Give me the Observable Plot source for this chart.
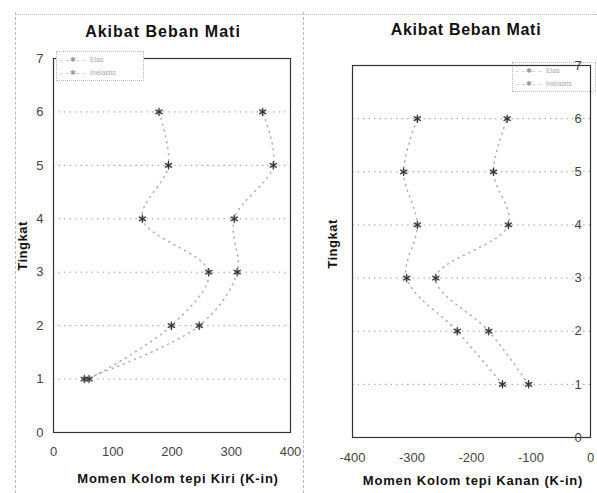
<!DOCTYPE html>
<html><head><meta charset="utf-8">
<script src="https://cdn.jsdelivr.net/npm/d3@7"></script>
<script src="https://cdn.jsdelivr.net/npm/@observablehq/plot@0.6"></script>
<style>
body{margin:0;background:#fff;font-family:"Liberation Sans",Arial,sans-serif;}
#wrap{position:relative;width:597px;height:493px;overflow:hidden;}
.panel{position:absolute;top:0;}
.t{position:absolute;font-weight:bold;color:#111;white-space:nowrap;transform:translate(-50%,-50%);}
.yl{position:absolute;font-weight:bold;font-size:13px;letter-spacing:0.5px;color:#111;transform:translate(-50%,-50%) rotate(-90deg);white-space:nowrap;}
.leg{position:absolute;border:1px dotted #bbb;background:#fff;font-size:7px;color:#aaa;line-height:13px;padding:1px 3px;}
.sep{position:absolute;border-left:1px dashed #bbb;}
.top{position:absolute;border-top:1px dotted #bbb;}
</style></head>
<body><div id="wrap"></div>
<script>
const levels = [1, 2, 3, 4, 5, 6];
const seriesNames = ["Elas", "Inelastis"];
const kiriElas = [60, 199, 262, 150, 194, 178];
const kiriInelastis = [52, 246, 310, 305, 371, 353];
const kananElas = [-148, -224, -309, -291, -314, -291];
const kananInelastis = [-104, -171, -260, -138, -163, -140];
const yTicks = [0, 1, 2, 3, 4, 5, 6, 7];
const xTicksKiri = [0, 100, 200, 300, 400];
const xTicksKanan = [-400, -300, -200, -100, 0];
const title = "Akibat Beban Mati";
const yLabel = "Tingkat";
const xLabelKiri = "Momen Kolom tepi Kiri (K-in)";
const xLabelKanan = "Momen Kolom tepi Kanan (K-in)";

function rows(a, b) {
  return levels.flatMap((lv, i) => [
    {s: seriesNames[0], x: a[i], y: lv},
    {s: seriesNames[1], x: b[i], y: lv}
  ]);
}

function makePlot(data, xDomain, xTicks, o) {
  return Plot.plot({
    width: o.width, height: 493,
    marginLeft: o.ml, marginRight: o.mr, marginTop: o.mt, marginBottom: o.mb,
    style: {fontFamily: "Liberation Sans, Arial, sans-serif", fontSize: "13px", color: "#444", background: "transparent", overflow: "visible"},
    x: {domain: xDomain, label: null},
    y: {domain: [0, 7], label: null},
    marks: [
      Plot.gridY(yTicks.filter(d => d > 0 && d < 7), {stroke: "#777", strokeOpacity: 0.7, strokeDasharray: "1.5,4"}),
      Plot.frame({stroke: "#333", strokeWidth: 1.2}),
      Plot.axisX(xTicks, {tickSize: 0, tickPadding: 0, dy: o.xdy, fontSize: 13, fill: "#444", tickFormat: d => String(d), label: null}),
      Plot.axisY(yTicks, {anchor: o.right ? "right" : "left", tickSize: 0, tickPadding: o.right ? -16 : 10, fill: "#444", fontSize: 13, tickFormat: d => String(d), label: null}),
      Plot.line(data, {x: "x", y: "y", z: "s", curve: "catmull-rom", stroke: "#999", strokeOpacity: 0.8, strokeDasharray: "1,5"}),
      Plot.dot(data, {x: "x", y: "y", r: 3, fill: "#bbb", stroke: "none"}),
      Plot.dot(data, {x: "x", y: "y", symbol: "asterisk", r: 4, stroke: "#333", strokeWidth: 1.1})
    ]
  });
}

const wrap = document.getElementById("wrap");
function add(css, cls, txt) {
  const d = document.createElement("div");
  if (cls) d.className = cls;
  d.style.cssText = css;
  if (txt != null) d.textContent = txt;
  wrap.appendChild(d);
  return d;
}
function legend(css) {
  const l = add(css, "leg");
  seriesNames.forEach(n => {
    const r = document.createElement("div");
    r.innerHTML = '<span style="color:#999;letter-spacing:1px">- -✱- -</span>&nbsp;&nbsp;' + n;
    l.appendChild(r);
  });
}

add("left:15px;top:12px;height:481px;", "sep");
add("left:303px;top:12px;height:481px;", "sep");
add("left:15px;top:14px;width:582px;", "top");

// right legend sits under the chart so the "7" tick label stays visible
legend("left:512px;top:62px;width:76px;");

const p1 = makePlot(rows(kiriElas, kiriInelastis), [0, 400], xTicksKiri, {width: 300, ml: 53, mr: 10, mt: 58, mb: 61, xdy: 14});
const d1 = add("left:0px;width:300px;", "panel"); d1.appendChild(p1);
const p2 = makePlot(rows(kananElas, kananInelastis), [-400, 0], xTicksKanan, {width: 297, ml: 52, mr: 7, mt: 65, mb: 56, right: true, xdy: 15});
const d2 = add("left:300px;width:297px;", "panel"); d2.appendChild(p2);

add("left:163px;top:32px;font-size:16px;letter-spacing:1px;", "t", title);
add("left:466px;top:30px;font-size:16px;letter-spacing:0.7px;", "t", title);
add("left:22px;top:246px;", "yl", yLabel);
add("left:332px;top:244px;", "yl", yLabel);
add("left:178px;top:478px;font-size:13px;letter-spacing:0.8px;", "t", xLabelKiri);
add("left:473px;top:480px;font-size:13px;letter-spacing:0.8px;", "t", xLabelKanan);

legend("left:56px;top:51px;width:80px;");
</script></body></html>
